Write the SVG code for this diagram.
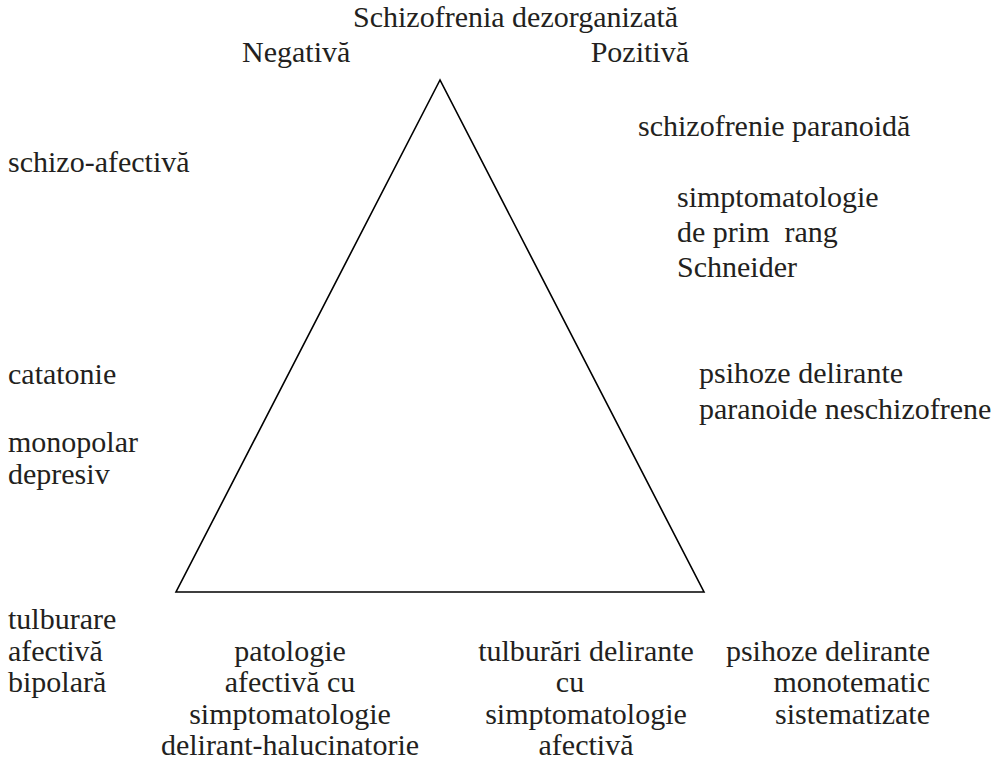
<svg xmlns="http://www.w3.org/2000/svg" width="1003" height="774" viewBox="0 0 1003 774" font-family="'Liberation Serif', 'Times New Roman', Times, 'DejaVu Serif', serif">
<style>
text{font-family:"Liberation Serif","Times New Roman",Times,"DejaVu Serif",serif;font-size:30px;fill:#231f20;white-space:pre}
.m{text-anchor:middle}
.e{text-anchor:end}
.edge{fill:none;stroke:#000;stroke-width:1.6;stroke-linejoin:miter}
</style>
<rect width="1003" height="774" fill="#fff"/>
<g id="connectors">
<polygon class="edge" points="440,80 176,592 704,592"/>
</g>
<g id="top"><text x="353" y="27">Schizofrenia dezorganizată</text></g>
<g id="negativa"><text x="242" y="62">Negativă</text></g>
<g id="pozitiva"><text class="e" x="689" y="62">Pozitivă</text></g>
<g id="paranoida"><text x="638" y="136">schizofrenie paranoidă</text></g>
<g id="schizoafectiva"><text x="8" y="172">schizo-afectivă</text></g>
<g id="schneider"><text x="677" y="207">simptomatologie</text><text x="677" y="242" xml:space="preserve">de prim  rang</text><text x="677" y="277">Schneider</text></g>
<g id="catatonie"><text x="8" y="384">catatonie</text></g>
<g id="psihoze-paranoide"><text x="699" y="383">psihoze delirante</text><text x="699" y="419">paranoide neschizofrene</text></g>
<g id="monopolar"><text x="8" y="452">monopolar</text><text x="8" y="484">depresiv</text></g>
<g id="bipolara"><text x="8" y="629">tulburare</text><text x="8" y="661">afectivă</text><text x="8" y="692">bipolară</text></g>
<g id="patologie"><text class="m" x="290" y="661">patologie</text><text class="m" x="290" y="692">afectivă cu</text><text class="m" x="290" y="724">simptomatologie</text><text class="m" x="290" y="755">delirant-halucinatorie</text></g>
<g id="tulburari"><text class="m" x="586" y="661">tulburări delirante</text><text class="m" x="570" y="692">cu</text><text class="m" x="586" y="724">simptomatologie</text><text class="m" x="586" y="755">afectivă</text></g>
<g id="monotematic"><text class="e" x="930" y="661">psihoze delirante</text><text class="e" x="930" y="692">monotematic</text><text class="e" x="930" y="724">sistematizate</text></g>
</svg>
